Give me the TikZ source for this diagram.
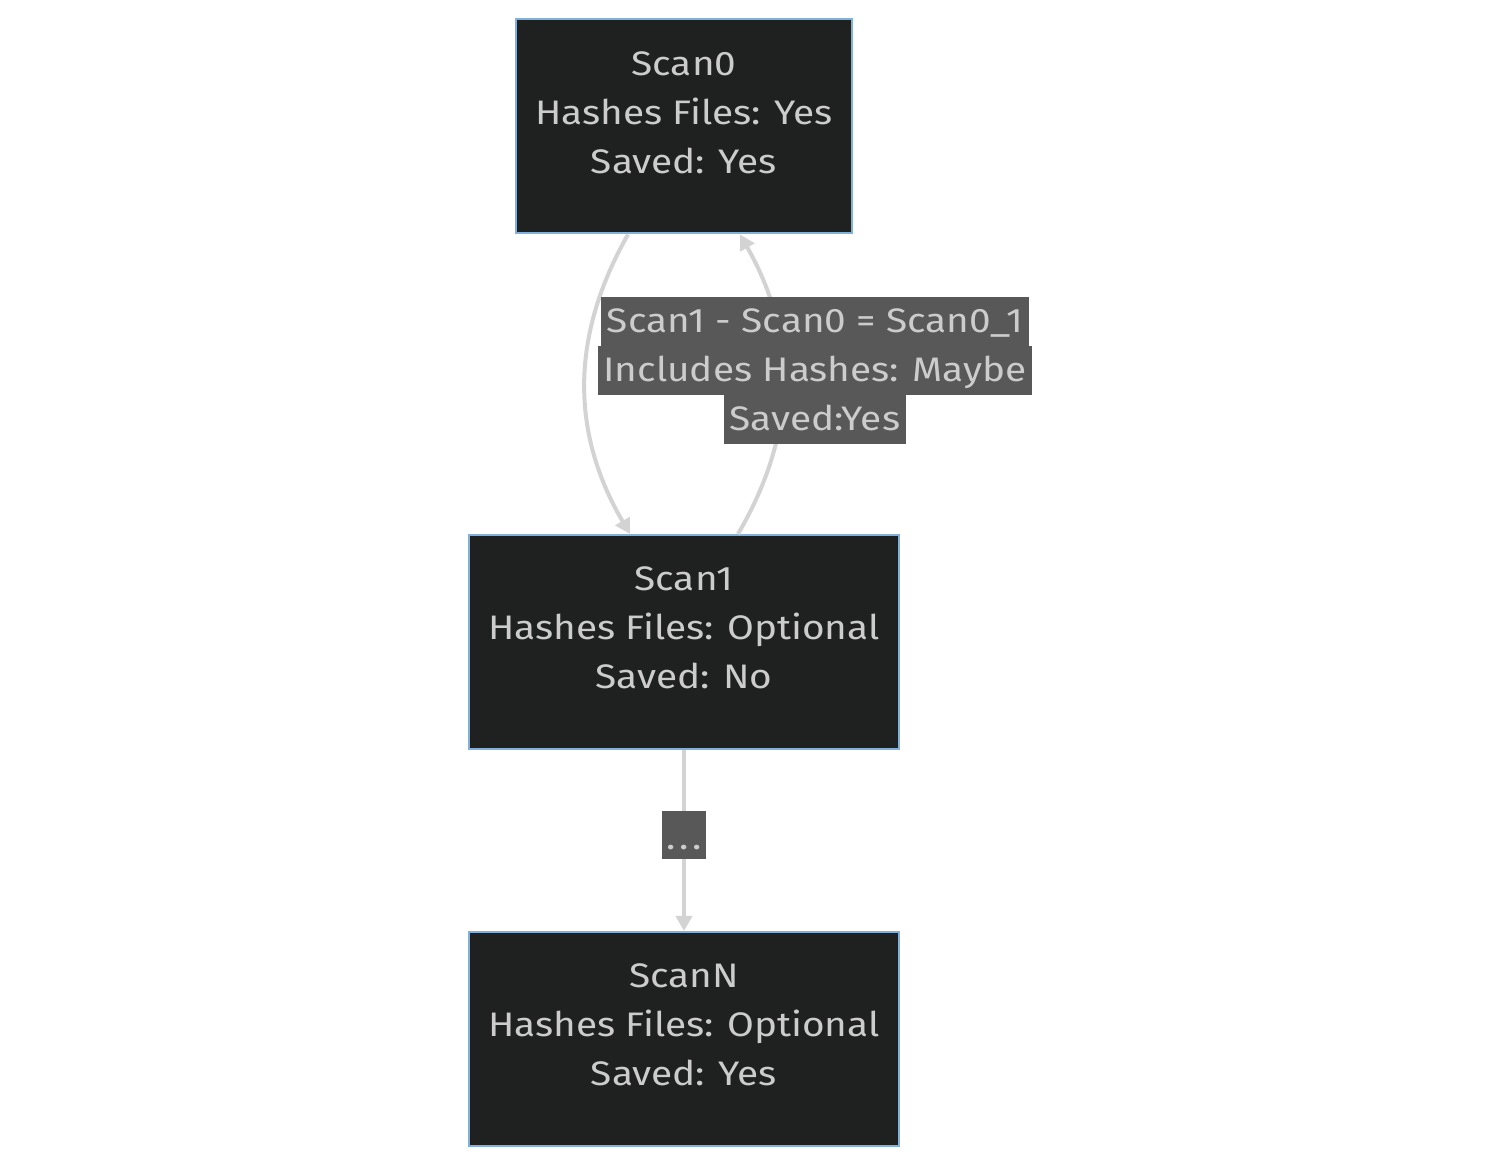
\documentclass[tikz,border=0pt]{standalone}
\usepackage{fontspec}
\setmainfont[FakeStretch=1.14]{Fira Sans}
\usetikzlibrary{arrows.meta}

\definecolor{nodefill}{HTML}{1F2020}
\definecolor{nodeline}{HTML}{81B1DB}
\definecolor{nodetext}{HTML}{CCCCCC}
\definecolor{edgeline}{HTML}{D3D3D3}
\definecolor{labelfill}{HTML}{585858}

\newcommand{\lblline}[1]{{\setlength{\fboxsep}{0pt}\colorbox{labelfill}{\rule[-7pt]{0pt}{24.5pt}\,#1\,}}}

\begin{document}
\begin{tikzpicture}[x=0.5pt,y=0.5pt,
                    every node/.style={font=\fontsize{17pt}{24.5pt}\selectfont,text=nodetext},
                    scan node/.style={rectangle,draw=nodeline,line width=1pt,fill=nodefill,
                                      align=center,minimum height=107pt,inner xsep=9.5pt},
                    label node/.style={fill=labelfill,inner sep=0pt,align=center},
                    flow/.style={-{Triangle[length=7.5pt,width=8pt]},draw=edgeline,line width=2pt}]
  \useasboundingbox (0,0) rectangle (1500,1166);

  \node[scan node,minimum width=167pt] (scan0) at (684,1039.5) {Scan0\\Hashes Files: Yes\\Saved: Yes\\[-10.5pt]\mbox{}};
  \node[scan node,minimum width=214pt] (scan1) at (684,524) {Scan1\\Hashes Files: Optional\\Saved: No\\[-10.5pt]\mbox{}};
  \node[scan node,minimum width=214pt] (scanN) at (684,127) {ScanN\\Hashes Files: Optional\\Saved: Yes\\[-10.5pt]\mbox{}};

  % the two scans and their difference
  \draw[flow] ([xshift=-28pt]scan0.south) to[bend right=30] ([xshift=-27pt]scan1.north);
  \draw[flow] ([xshift=27pt]scan1.north) to[bend right=30] ([xshift=28pt]scan0.south);
  \node[label node,fill=none] (diff) at (815,795)
    {\lblline{Scan1 - Scan0 = Scan0\_1}\\\lblline{Includes Hashes: Maybe}\\\lblline{Saved:Yes}};

  % and so on
  \draw[flow] (scan1.south) -- node[label node,pos=0.47,minimum width=22pt,text height=19pt,text depth=5pt]
    (dots) {.\kern2pt.\kern2pt.} (scanN.north);
\end{tikzpicture}
\end{document}
